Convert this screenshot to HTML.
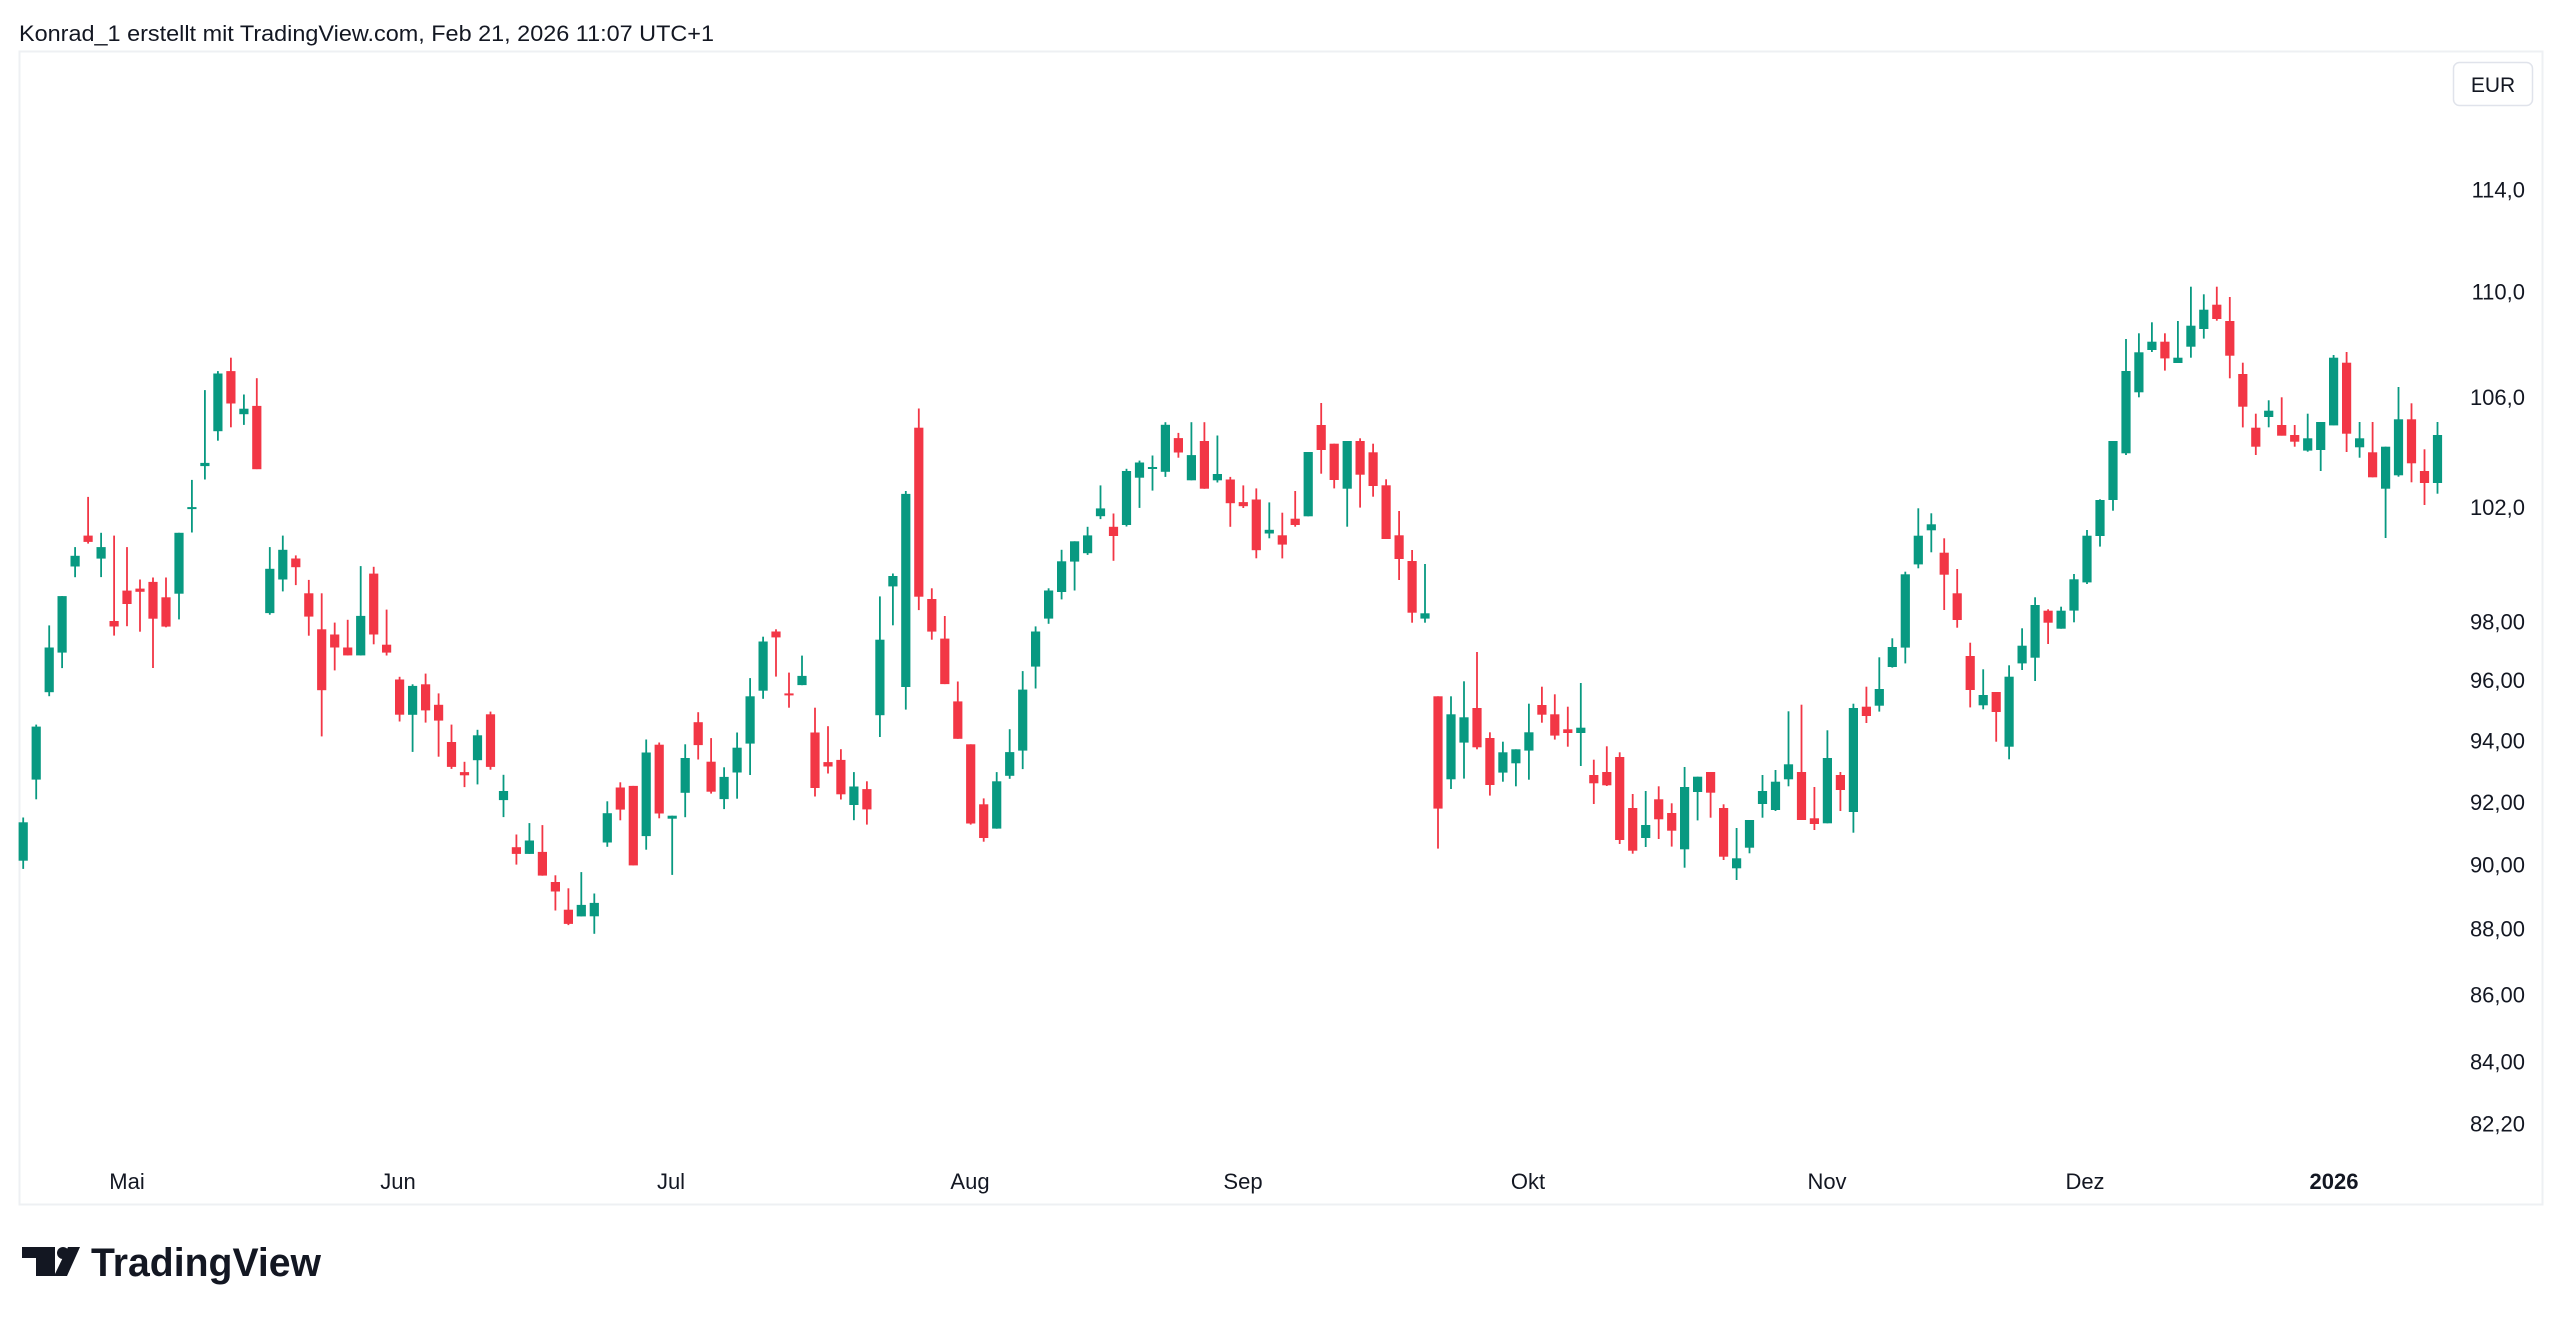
<!DOCTYPE html>
<html><head><meta charset="utf-8">
<style>
html,body{margin:0;padding:0;background:#fff;}
body{width:2560px;height:1319px;overflow:hidden;position:relative;font-family:"Liberation Sans",sans-serif;}
</style></head>
<body>
<svg id="s" width="2560" height="1319" xmlns="http://www.w3.org/2000/svg" style="position:absolute;left:0;top:0">
<text x="19" y="41" font-family="Liberation Sans, sans-serif" font-size="22" fill="#131722" textLength="695" lengthAdjust="spacingAndGlyphs">Konrad_1 erstellt mit TradingView.com, Feb 21, 2026 11:07 UTC+1</text>
<rect x="19.5" y="51.5" width="2523" height="1153" fill="none" stroke="#eef0f3" stroke-width="2"/>
<rect x="2453.5" y="62.5" width="79" height="43" rx="6" fill="#fff" stroke="#e0e3eb" stroke-width="1.5"/>
<text x="2493" y="92" font-size="21" fill="#131722" text-anchor="middle" font-family="Liberation Sans, sans-serif">EUR</text>
<g id="ax" font-family="Liberation Sans, sans-serif" font-size="22" fill="#131722" text-anchor="end"></g>
<g id="xl" font-family="Liberation Sans, sans-serif" font-size="22" fill="#131722" text-anchor="middle">
<text x="127" y="1189">Mai</text>
<text x="398" y="1189">Jun</text>
<text x="671" y="1189">Jul</text>
<text x="970" y="1189">Aug</text>
<text x="1243" y="1189">Sep</text>
<text x="1528" y="1189">Okt</text>
<text x="1827" y="1189">Nov</text>
<text x="2085" y="1189">Dez</text>
<text x="2334" y="1189" font-weight="bold">2026</text>
</g>
<g id="c"></g>
<g fill="#131722">
<rect x="22" y="1247" width="33" height="11"/>
<rect x="36" y="1247" width="19" height="29"/>
<circle cx="63" cy="1253" r="6"/>
<polygon points="68,1247 80,1247 67,1276 54,1276"/>
<text x="91" y="1276" font-family="Liberation Sans, sans-serif" font-size="40" font-weight="bold" textLength="230" lengthAdjust="spacingAndGlyphs">TradingView</text>
</g>
</svg>
<script>
(function(){
var NS="http://www.w3.org/2000/svg";
var ax=document.getElementById('ax');
var A=13716,B=2856;
function py(p){return A-B*Math.log(p);}
var labs=[[114,"114,0"],[110,"110,0"],[106,"106,0"],[102,"102,0"],[98,"98,00"],[96,"96,00"],[94,"94,00"],[92,"92,00"],[90,"90,00"],[88,"88,00"],[86,"86,00"],[84,"84,00"],[82.2,"82,20"]];
labs.forEach(function(l){var t=document.createElementNS(NS,'text');t.setAttribute('x',2525);t.setAttribute('y',py(l[0])+8);t.textContent=l[1];ax.appendChild(t);});
// zoom data: [color, wickTop, bodyTop, bodyBottom, wickBottom]
var z1=`g 1233 1245 1342 1363
g 998 1003 1137 1187
g 747 803 916 926
g 673 673 816 855
g 549 571 598 625
r 422 520 536 540
g 513 549 578 625
r 520 736 750 773
r 549 659 693 749
r 631 654 662 763
r 626 637 730 855
r 626 676 750 752
g 513 513 667 732
g 379 449 452 512
g 152 336 344 378
g 104 110 256 280
r 70 104 186 246
g 163 199 213 240
r 122 192 352 352
g 549 604 716 720
g 520 556 631 661
r 570 578 600 645
r 632 666 725 773
r 666 757 911 1028
r 740 770 803 861
r 733 803 823 823
g 597 723 823 823
r 599 616 770 795
r 707 796 816 823
r 877 884 973 990
g 896 900 973 1067
r 869 896 962 993
r 919 948 988 1079
r 998 1042 1105 1110
r 1092 1118 1126 1156
g 1011 1025 1088 1149
r 965 972 1105 1112
g 1125 1166 1189 1232
r 1276 1308 1325 1352
g 1247 1291 1325 1325
r 1252 1320 1380 1380
r 1379 1396 1420 1468
r 1412 1466 1502 1505
g 1371 1454 1483 1483
g 1425 1449 1483 1527
g 1192 1222 1296 1307
r 1144 1157 1213 1240
r 1153 1153 1354 1354`;
var z2=`g 972 1007 1233 1270
r 980 986 1172 1185
g 1178 1178 1186 1338
g 985 1022 1116 1182
r 898 925 987 1026
r 968 1032 1113 1118
g 1047 1073 1133 1160
g 953 994 1061 1132
g 806 855 983 1068
g 694 707 840 862
r 674 680 696 802
r 791 848 852 886
g 745 800 825 825
r 886 953 1103 1126
r 936 1033 1045 1064
r 998 1027 1120 1134
g 1060 1099 1149 1190
r 1085 1106 1161 1202
g 585 702 906 965
g 523 530 558 663
g 300 308 830 891
r 77 129 586 622
r 563 592 680 702
r 638 699 822 822
r 815 869 970 970
r 985 985 1199 1202
r 1131 1147 1238 1248
g 1060 1085 1213 1213
g 944 1006 1070 1078
g 787 837 1002 1052
g 666 680 775 834
g 563 569 645 659
g 459 490 573 593
g 436 436 491 569
g 397 420 468 473
g 285 347 368 376
r 361 397 422 489
g 240 246 392 396
g 218 223 264 346
g 204 236 240 299
g 114 121 248 262
r 143 157 196 210
g 114 203 271 271
r 114 165 294 294
g 150 254 271 277
r 262 269 333 397
r 285 330 341 346
r 293 323 460 482
g 331 405 415 428`;
var z3=`r 398 466 494 535
r 333 416 435 440
g 216 216 409 409
r 69 135 210 281
r 191 191 300 325
g 183 183 326 440
r 175 183 284 383
r 191 217 318 350
r 298 316 477 477
r 393 466 537 600
r 510 543 698 728
g 552 700 716 728
r 949 949 1286 1406
g 949 1003 1198 1227
g 904 1012 1088 1196
r 816 984 1102 1108
r 1057 1074 1215 1247
g 1085 1117 1178 1205
g 1108 1108 1150 1219
g 971 1057 1112 1199
r 920 975 1004 1028
r 943 1003 1067 1079
r 980 1048 1059 1100
g 909 1043 1059 1158
r 1139 1185 1210 1272
r 1099 1176 1216 1218
r 1117 1131 1380 1392
r 1242 1284 1412 1421
g 1233 1335 1374 1401
r 1219 1258 1318 1377
r 1270 1299 1352 1400
g 1161 1221 1408 1463
g 1190 1190 1236 1321
r 1176 1176 1238 1313
r 1273 1284 1430 1440
g 1344 1435 1465 1500
g 1320 1320 1403 1420
g 1185 1233 1272 1313
g 1170 1205 1290 1293
g 994 1153 1198 1219
r 974 1176 1320 1320
r 1221 1315 1332 1350
g 1051 1134 1330 1330
r 1176 1185 1230 1293
g 971 984 1296 1358
r 920 980 1008 1029
g 832 927 977 995
g 775 801 861 863`;
var z4=`g 935 943 1163 1210
g 745 827 913 925
g 760 793 811 877
r 835 878 944 1050
r 927 1000 1080 1103
r 1148 1188 1290 1342
g 1228 1305 1336 1348
r 1296 1296 1356 1445
g 1216 1250 1460 1498
g 1105 1157 1210 1230
g 1012 1035 1193 1263
r 1048 1052 1088 1152
g 1040 1052 1106 1106
g 942 958 1052 1087
g 810 827 967 972
g 718 720 828 860
g 543 543 720 752
g 237 333 580 585
g 220 277 397 412
g 187 245 270 276
r 220 245 295 332
g 183 293 309 309
g 80 197 260 293
g 103 149 207 236
r 80 134 177 182
r 111 183 287 355
r 308 342 440 502
r 461 503 560 585
g 421 452 471 502
r 412 495 527 527
r 495 525 545 560
g 461 535 572 575
g 486 486 570 633
g 285 293 496 496
r 276 308 521 576
g 486 535 562 593
r 486 577 652 652
g 560 560 686 834
g 381 478 646 650
r 430 478 610 667
r 568 633 669 735
g 486 525 669 701`;
var sets=[[z1,330,1568/620],[z2,380,1568/580],[z3,380,3.0],[z4,260,3.0]];
var g=document.getElementById('c');var i=0;var html='';
sets.forEach(function(s){
 s[0].trim().split('\n').forEach(function(line){
  var p=line.trim().split(/\s+/);var col=p[0]=='g'?'#089981':'#f23645';
  var v=p.slice(1).map(function(n){return s[1]+(+n)/s[2];});
  var x=23.2+i*12.98;
  var bt=v[1],bb=v[2];if(bb-bt<2){var m=(bt+bb)/2;bt=m-1;bb=m+1;}
  html+='<rect x="'+(x-0.9).toFixed(1)+'" y="'+v[0].toFixed(1)+'" width="1.8" height="'+(v[3]-v[0]).toFixed(1)+'" fill="'+col+'"/>';
  html+='<rect x="'+(x-4.6).toFixed(1)+'" y="'+bt.toFixed(1)+'" width="9.2" height="'+(bb-bt).toFixed(1)+'" fill="'+col+'"/>';
  i++;
 });
});
g.innerHTML=html;
})();
</script>
</body></html>
